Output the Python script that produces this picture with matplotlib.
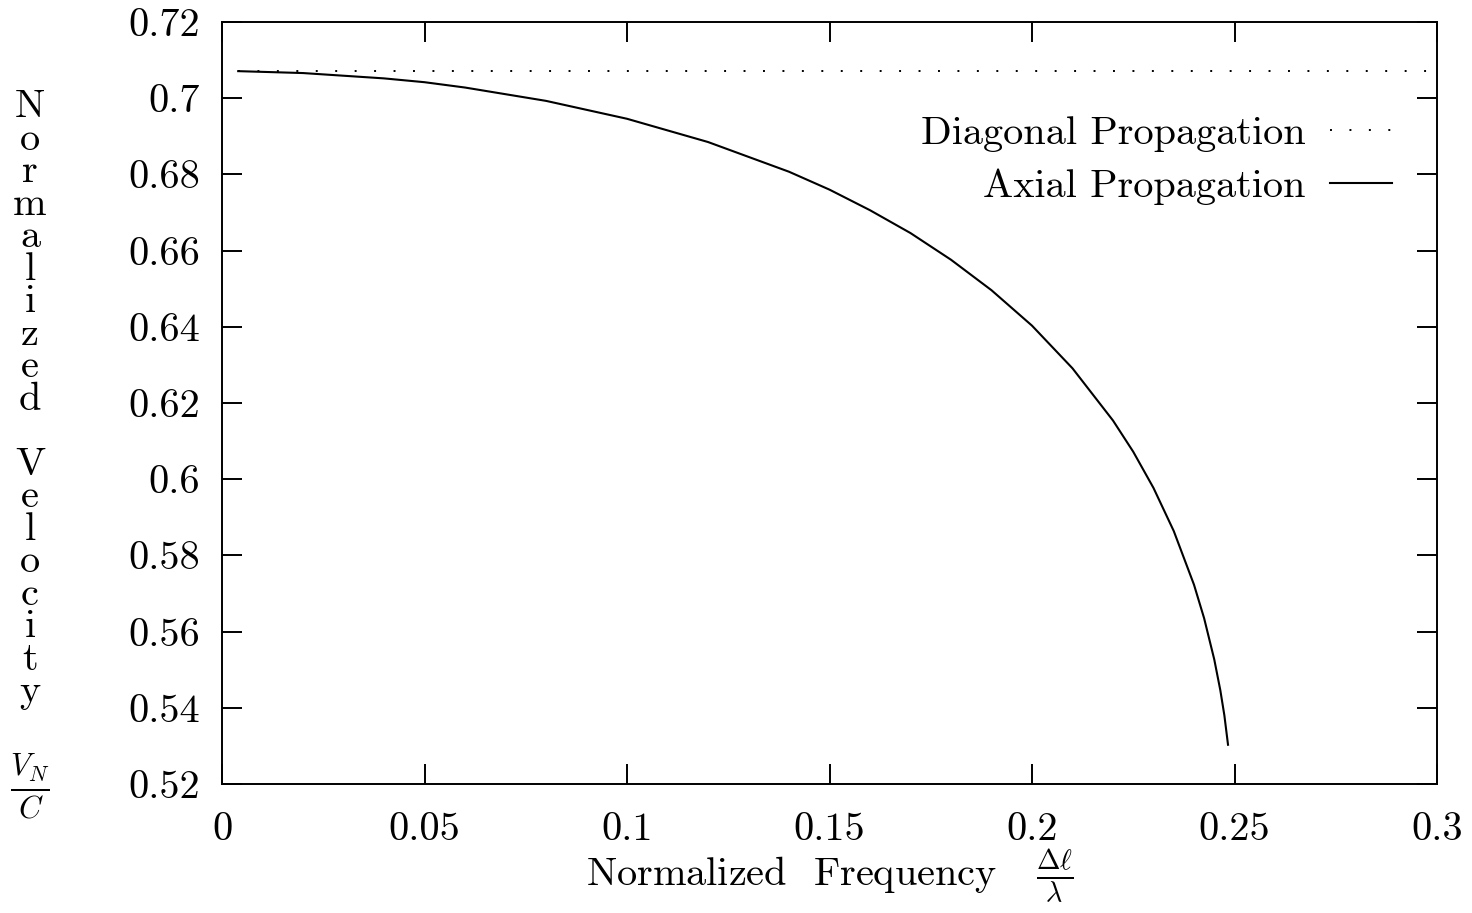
import matplotlib
matplotlib.use('Agg')
import matplotlib.pyplot as plt

# 归一化频率 Δl/λ 与归一化速度 V_N/C
freq_axial = [0.004, 0.02, 0.04, 0.05, 0.06, 0.08, 0.10, 0.12, 0.14, 0.15, 0.16,
              0.17, 0.18, 0.19, 0.20, 0.21, 0.22, 0.225, 0.23, 0.235, 0.24,
              0.2425, 0.245, 0.2465, 0.2475, 0.2484]
vel_axial = [0.7071, 0.7066, 0.7052, 0.7042, 0.7028, 0.6993, 0.6946, 0.6885,
             0.6807, 0.6760, 0.6706, 0.6646, 0.6576, 0.6496, 0.6403, 0.6291,
             0.6154, 0.6072, 0.5977, 0.5864, 0.5723, 0.5635, 0.5527, 0.5446,
             0.5380, 0.5303]

freq_diag = [0.004, 0.298]
vel_diag = [0.7071, 0.7071]

labels = ['Diagonal Propagation', 'Axial Propagation']

xticks = [0, 0.05, 0.1, 0.15, 0.2, 0.25, 0.3]
xtick_labels = ['0', '0.05', '0.1', '0.15', '0.2', '0.25', '0.3']
yticks = [0.52, 0.54, 0.56, 0.58, 0.6, 0.62, 0.64, 0.66, 0.68, 0.7, 0.72]
ytick_labels = ['0.52', '0.54', '0.56', '0.58', '0.6', '0.62', '0.64', '0.66', '0.68', '0.7', '0.72']

# 字体：类似 LaTeX 的 Computer Modern
plt.rcParams['font.family'] = 'cmr10'
plt.rcParams['mathtext.fontset'] = 'cm'
plt.rcParams['axes.unicode_minus'] = False
fs = 29
plt.rcParams['font.size'] = fs

fig = plt.figure(figsize=(14.72, 9.13), dpi=100)
ax = fig.add_axes([222 / 1472, 1 - 784 / 913, (1437 - 222) / 1472, (784 - 22) / 913])

# 画两条曲线
ax.plot(freq_diag, vel_diag, color='black', lw=1.4, linestyle=(0, (1, 9)), label=labels[0])
ax.plot(freq_axial, vel_axial, color='black', lw=1.5, label=labels[1])

ax.set_xlim(0, 0.3)
ax.set_ylim(0.52, 0.72)
ax.set_xticks(xticks)
ax.set_xticklabels(xtick_labels)
ax.set_yticks(yticks)
ax.set_yticklabels(ytick_labels)

# gnuplot 风格：四边都有向内的刻度
ax.tick_params(direction='in', length=14.5, width=1.4, top=True, right=True, labelsize=fs)
ax.tick_params(axis='x', pad=20)
ax.tick_params(axis='y', pad=16)
for sp in ax.spines.values():
    sp.set_linewidth(1.4)

# x 轴标签
ax.set_xlabel(r'Normalized  Frequency   $\frac{\Delta\ell}{\lambda}$', fontsize=fs, labelpad=0)

# y 轴标签：竖排字母
ylabel_text = '\n'.join(list('Normalized') + [' '] + list('Velocity'))
fig.text(30 / 1472, 1 - 400 / 913, ylabel_text, ha='center', va='center',
         multialignment='center', fontsize=fs, linespacing=0.88)
fig.text(30 / 1472, 1 - 787 / 913, r'$\frac{V_N}{C}$', ha='center', va='center', fontsize=32)

# 图例（文字在左，线在右）
ax.legend(loc='upper right', bbox_to_anchor=(0.963, 0.877), frameon=False,
          markerfirst=False, handlelength=1.55, handletextpad=0.6,
          borderaxespad=0, borderpad=0, labelspacing=0.42, fontsize=fs)

fig.savefig('out.png', dpi=100)
